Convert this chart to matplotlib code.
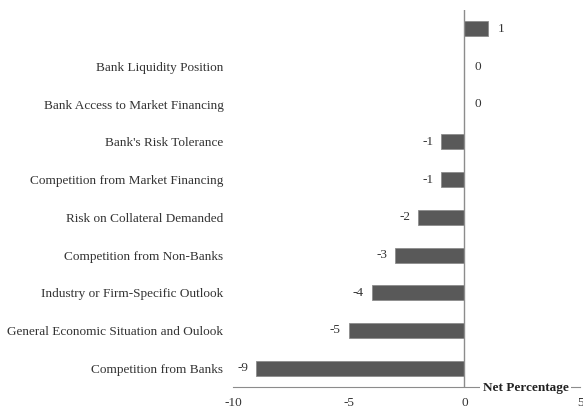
import matplotlib.pyplot as plt
import numpy as np

# Categories listed top to bottom
categories = ['', 'Bank Liquidity Position', 'Bank Access to Market Financing',
              "Bank's Risk Tolerance", 'Competition from Market Financing',
              'Risk on Collateral Demanded', 'Competition from Non-Banks',
              'Industry or Firm-Specific Outlook',
              'General Economic Situation and Oulook', 'Competition from Banks']
values = [1, 0, 0, -1, -1, -2, -3, -4, -5, -9]
xticks = [-10, -5, 0, 5]

plt.rcParams['font.family'] = ['Liberation Serif', 'DejaVu Serif']

fig = plt.figure(figsize=(5.83, 4.12), dpi=100)
ax = fig.add_axes([0.4, 0.0607, 0.595, 0.915])

n = len(categories)
pos = np.arange(n)[::-1]
ax.barh(pos, values, height=0.4, color='#595959', edgecolor='#8c8c8c', linewidth=0.6)

for p, v in zip(pos, values):
    if v < 0:
        ax.text(v - 0.35, p, str(v), ha='right', va='center', fontsize=9.5, color='#333333')
    else:
        ax.text(v + 0.45, p, str(v), ha='left', va='center', fontsize=9.5, color='#333333')

ax.set_xlim(-10, 5)
ax.set_ylim(-0.5, n - 0.5)
ax.set_xticks(xticks)
ax.set_xticklabels([str(t) for t in xticks], fontsize=9.5, color='#333333')
ax.tick_params(axis='x', length=0, pad=7.5)

ax.set_yticks(pos)
ax.set_yticklabels(categories, fontsize=9.5, color='#333333')
ax.tick_params(axis='y', length=0, pad=7)

for s in ['top', 'right', 'left']:
    ax.spines[s].set_visible(False)
ax.spines['bottom'].set_color('#8c8c8c')
ax.axvline(0, color='#8c8c8c', linewidth=1)

ax.text(2.64, -0.53, 'Net Percentage', ha='center', va='center', fontsize=9.5,
        fontweight='bold', color='#222222',
        bbox=dict(facecolor='white', edgecolor='none', pad=1.5), clip_on=False)

fig.savefig('out.png', dpi=100)
